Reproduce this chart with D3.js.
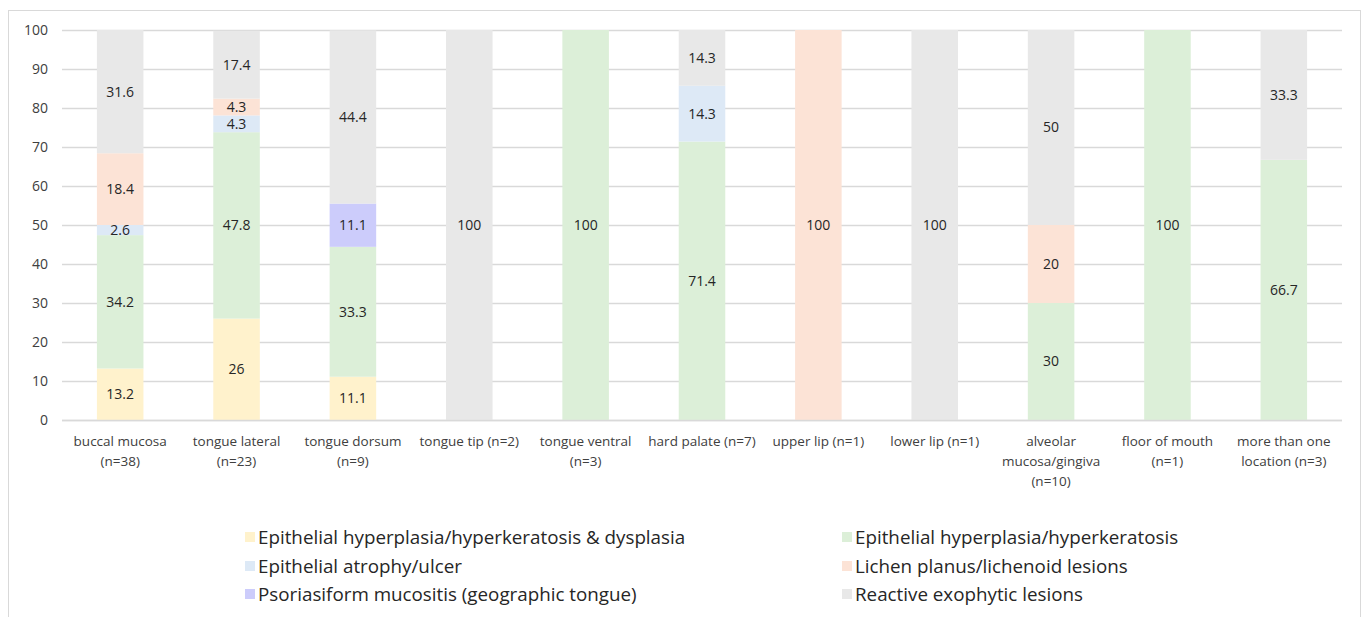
<!DOCTYPE html>
<html>
<head>
<meta charset="utf-8">
<script src="https://cdn.jsdelivr.net/npm/d3@7"></script>
<style>
  body { margin: 0; background: #fff; }
  svg { font-family: "Open Sans", Lato, sans-serif; }
</style>
</head>
<body>
<svg id="chart" width="1365" height="617"></svg>
<script>
// Kategorien (Lokalisation) und Werte je Befundgruppe, in Prozent
var categories = [
  ["buccal mucosa", "(n=38)"],
  ["tongue lateral", "(n=23)"],
  ["tongue dorsum", "(n=9)"],
  ["tongue tip (n=2)"],
  ["tongue ventral", "(n=3)"],
  ["hard palate (n=7)"],
  ["upper lip (n=1)"],
  ["lower lip (n=1)"],
  ["alveolar", "mucosa/gingiva", "(n=10)"],
  ["floor of mouth", "(n=1)"],
  ["more than one", "location (n=3)"]
];

var seriesNames = [
  "Epithelial hyperplasia/hyperkeratosis & dysplasia",
  "Epithelial hyperplasia/hyperkeratosis",
  "Epithelial atrophy/ulcer",
  "Lichen planus/lichenoid lesions",
  "Psoriasiform mucositis (geographic tongue)",
  "Reactive exophytic lesions"
];

var dysplasia   = [13.2, 26,   11.1, 0,   0,   0,    0,   0,   0,  0,   0];
var hyperplasia = [34.2, 47.8, 33.3, 0,   100, 71.4, 0,   0,   30, 100, 66.7];
var atrophy     = [2.6,  4.3,  0,    0,   0,   14.3, 0,   0,   0,  0,   0];
var lichen      = [18.4, 4.3,  0,    0,   0,   0,    100, 0,   20, 0,   0];
var psoriasis   = [0,    0,    11.1, 0,   0,   0,    0,   0,   0,  0,   0];
var reactive    = [31.6, 17.4, 44.4, 100, 0,   14.3, 0,   100, 50, 0,   33.3];

var yTicks = [0, 10, 20, 30, 40, 50, 60, 70, 80, 90, 100];

var colors = ["#fff2cc", "#dcefd8", "#dde9f6", "#fce3d6", "#ccccfb", "#e8e8e8"];

// Tabelle für d3.stack bauen
var seriesValues = [dysplasia, hyperplasia, atrophy, lichen, psoriasis, reactive];
var table = categories.map(function(c, i) {
  var row = { idx: i };
  seriesNames.forEach(function(s, k) { row[s] = seriesValues[k][i]; });
  return row;
});

var svg = d3.select("#chart");

// Rahmen um die ganze Grafik
svg.append("rect")
  .attr("x", 8.5).attr("y", 10.5)
  .attr("width", 1352).attr("height", 620)
  .attr("fill", "none")
  .attr("stroke", "#d9d9d9");

var margin = { left: 62, right: 1342, top: 30, bottom: 420 };

var x = d3.scaleBand()
  .domain(d3.range(categories.length))
  .range([margin.left, margin.right])
  .paddingInner(0.6)
  .paddingOuter(0.3);

var y = d3.scaleLinear()
  .domain([0, 100])
  .range([margin.bottom, margin.top]);

// Gitterlinien
var yAxis = svg.append("g")
  .attr("transform", "translate(" + margin.left + ",0)")
  .call(d3.axisLeft(y).tickValues(yTicks)
    .tickSize(-(margin.right - margin.left))
    .tickPadding(14));
yAxis.select(".domain").remove();
yAxis.selectAll(".tick line").attr("stroke", "#d9d9d9").attr("stroke-width", 1.3);
yAxis.selectAll(".tick text")
  .attr("fill", "#404040")
  .style("font-size", "14px")
  .style("font-family", "'Open Sans', sans-serif");

// Balken
var stack = d3.stack().keys(seriesNames);
var layers = stack(table);

var groups = svg.selectAll("g.layer")
  .data(layers)
  .enter().append("g")
  .attr("class", "layer")
  .attr("fill", function(d, i) { return colors[i]; });

groups.selectAll("rect")
  .data(function(d) { return d; })
  .enter().append("rect")
  .attr("x", function(d) { return x(d.data.idx); })
  .attr("y", function(d) { return y(d[1]); })
  .attr("width", x.bandwidth())
  .attr("height", function(d) { return y(d[0]) - y(d[1]); });

// Datenbeschriftung
groups.selectAll("text")
  .data(function(d) { return d.filter(function(p) { return p[1] - p[0] > 0; }); })
  .enter().append("text")
  .attr("x", function(d) { return x(d.data.idx) + x.bandwidth() / 2; })
  .attr("y", function(d) { return y((d[0] + d[1]) / 2); })
  .attr("dy", "0.35em")
  .attr("text-anchor", "middle")
  .attr("fill", "#262626")
  .style("font-size", "14px")
  .text(function(d) { return Math.round((d[1] - d[0]) * 10) / 10; });

// x-Achse
svg.append("line")
  .attr("x1", margin.left).attr("x2", margin.right)
  .attr("y1", margin.bottom + 0.5).attr("y2", margin.bottom + 0.5)
  .attr("stroke", "#d9d9d9").attr("stroke-width", 1.3);

var xLabels = svg.selectAll("text.xlab")
  .data(categories)
  .enter().append("text")
  .attr("class", "xlab")
  .attr("text-anchor", "middle")
  .attr("fill", "#404040")
  .style("font-size", "13.5px")
  .attr("transform", function(d, i) {
    return "translate(" + (x(i) + x.bandwidth() / 2) + "," + (margin.bottom + 26) + ")";
  });

xLabels.selectAll("tspan")
  .data(function(d) { return d; })
  .enter().append("tspan")
  .attr("x", 0)
  .attr("y", function(d, i) { return i * 20; })
  .text(function(d) { return d; });

// Legende
var legendX = [245, 842];
var legendY = [537, 566, 594];
var legend = svg.selectAll("g.legend")
  .data(seriesNames)
  .enter().append("g")
  .attr("class", "legend")
  .attr("transform", function(d, i) {
    return "translate(" + legendX[i % 2] + "," + legendY[Math.floor(i / 2)] + ")";
  });

legend.append("rect")
  .attr("x", 0).attr("y", -5)
  .attr("width", 10).attr("height", 10)
  .attr("fill", function(d, i) { return colors[i]; });

legend.append("text")
  .attr("x", 13)
  .attr("dy", "0.35em")
  .attr("fill", "#262626")
  .style("font-size", "18.8px")
  .text(function(d) { return d; });
</script>
</body>
</html>
